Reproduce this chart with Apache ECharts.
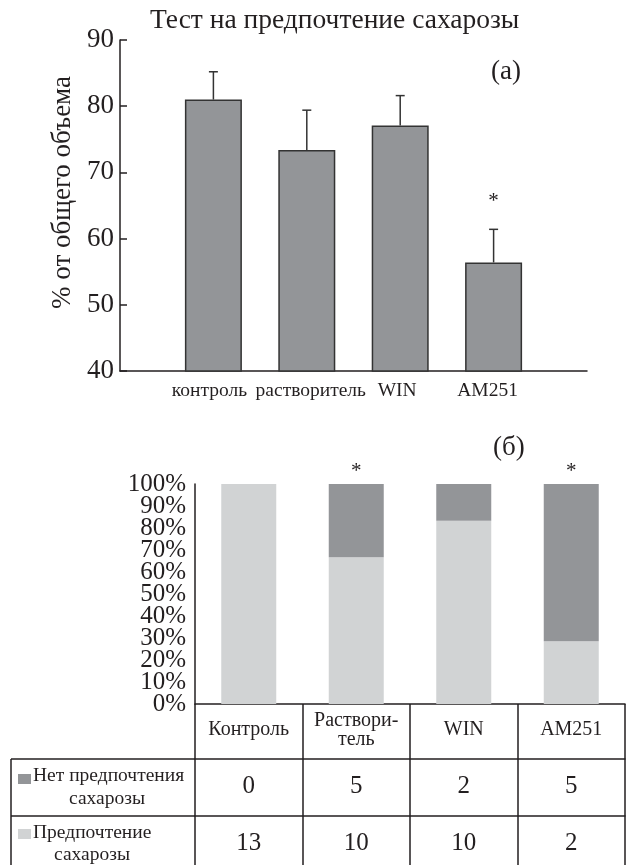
<!DOCTYPE html>
<html>
<head>
<meta charset="utf-8">
<script src="https://cdn.jsdelivr.net/npm/echarts@6/dist/echarts.min.js"></script>
<style>
  html, body { margin: 0; padding: 0; background: #fff; }
  #chart { width: 626px; height: 865px; }
</style>
</head>
<body>
<div id="chart"></div>
<script>
// (а) sucrose preference, % of total volume
const groupsA = ['контроль', 'растворитель', 'WIN', 'AM251'];
const meanA = [81.0, 73.4, 77.1, 56.4];
const semA = [4.2, 6.0, 4.5, 5.0];
const sigA = [false, false, false, true];

// (б) number of animals
const groupsB = ['Контроль', 'Раствори-\nтель', 'WIN', 'AM251'];
const noPref = [0, 5, 2, 5];
const pref = [13, 10, 10, 2];
const sigB = [false, true, false, true];

const FONT = 'Liberation Serif';
const INK = '#231f20';
const DARK = '#939598';
const LIGHT = '#d1d3d4';

const myChart = echarts.init(document.getElementById('chart'));

// padded category axis so bars sit at interior points
const xDataA = [''].concat(groupsA, ['']);
const barDataA = [null].concat(meanA, [null]);
const errData = groupsA.map((g, i) => [i + 1, meanA[i], meanA[i] + semA[i], sigA[i] ? 1 : 0]);

const totals = pref.map((p, i) => p + noPref[i]);
const prefPct = pref.map((p, i) => p / totals[i] * 100);
const noPrefPct = noPref.map((n, i) => n / totals[i] * 100);

const txt = (size) => ({ fontFamily: FONT, fontSize: size, color: INK, fontWeight: 'normal' });

// small nudges of the lower labels of chart (а), as in the original layout
const labStyle = (pad) => Object.assign(txt(19.5), { padding: pad });
const richA = {
  a: labStyle([0, 8, 0, 0]),
  b: labStyle([0, 0, 0, 8]),
  c: labStyle([0, 6, 0, 0]),
  d: labStyle([0, 12, 0, 0])
};
const richKeys = ['a', 'b', 'c', 'd'];

const tableAxis = (offset, tickLen, fmt) => ({
  gridIndex: 1,
  type: 'category',
  position: 'bottom',
  offset: offset,
  data: groupsB,
  axisLine: { show: true, onZero: false, lineStyle: { color: INK, width: 1.5 } },
  axisTick: { show: true, length: tickLen, lineStyle: { color: INK, width: 1.5 } },
  axisLabel: Object.assign(txt(25), { interval: 0, margin: 27, verticalAlign: 'middle', formatter: fmt })
});

// the packed percent labels are split over two axes so none gets dropped
const pctAxis = (odd, showLine) => ({
  gridIndex: 1,
  type: 'value',
  position: 'left',
  min: 0, max: 100, interval: 10,
  axisLine: { show: showLine, onZero: false, lineStyle: { color: INK, width: 1.5 } },
  axisTick: { show: false },
  axisLabel: Object.assign(txt(25), {
    margin: 9,
    formatter: (v) => ((v / 10) % 2 === 1) === odd ? v + '%' : ''
  }),
  splitLine: { show: false }
});

const option = {
  animation: false,
  title: [
    { text: 'Тест на предпочтение сахарозы', left: 150, top: 7, padding: 0, textStyle: txt(27.5) },
    { text: '(а)', left: 491, top: 58, padding: 0, textStyle: txt(27) },
    { text: '(б)', left: 493, top: 434, padding: 0, textStyle: txt(27) }
  ],
  grid: [
    { left: 120, top: 40, width: 467, height: 331 },
    { left: 195, top: 484, width: 430, height: 220 }
  ],
  xAxis: [
    {
      gridIndex: 0,
      type: 'category',
      data: xDataA,
      boundaryGap: false,
      axisLine: { lineStyle: { color: INK, width: 1.5 } },
      axisTick: {
        show: true, inside: true, length: 9,
        interval: (idx) => idx > 0 && idx < xDataA.length - 1,
        lineStyle: { color: INK, width: 1.5 }
      },
      axisLabel: Object.assign(txt(19.5), {
        interval: 0, margin: 10, rich: richA,
        formatter: (v, i) => v ? '{' + richKeys[i - 1] + '|' + v + '}' : ''
      })
    },
    {
      gridIndex: 1,
      type: 'category',
      position: 'bottom',
      data: groupsB,
      axisLine: { onZero: false, lineStyle: { color: INK, width: 1.5 } },
      axisTick: { show: true, length: 55, lineStyle: { color: INK, width: 1.5 } },
      axisLabel: Object.assign(txt(20), { interval: 0, margin: 26, verticalAlign: 'middle', lineHeight: 19 })
    },
    tableAxis(55, 57, (v, i) => String(noPref[i])),
    tableAxis(112, 49, (v, i) => String(pref[i]))
  ],
  yAxis: [
    {
      gridIndex: 0,
      type: 'value',
      min: 40, max: 90, interval: 10,
      name: '% от общего объема',
      nameLocation: 'middle',
      nameRotate: 90,
      nameGap: 40,
      nameTextStyle: Object.assign(txt(27), { padding: [0, 0, 0, 26] }),
      axisLine: { show: true, lineStyle: { color: INK, width: 1.5 } },
      axisTick: { show: true, inside: true, length: 7, lineStyle: { color: INK, width: 1.5 } },
      axisLabel: Object.assign(txt(27), { margin: 6 }),
      splitLine: { show: false }
    },
    pctAxis(false, true),
    pctAxis(true, false)
  ],
  series: [
    {
      type: 'bar',
      xAxisIndex: 0, yAxisIndex: 0,
      data: barDataA,
      barWidth: 57,
      itemStyle: { color: DARK, borderColor: '#333', borderWidth: 1.5 }
    },
    {
      type: 'custom',
      xAxisIndex: 0, yAxisIndex: 0,
      data: errData,
      z: 5,
      renderItem: function (params, api) {
        const p0 = api.coord([api.value(0), api.value(1)]);
        const p1 = api.coord([api.value(0), api.value(2)]);
        const ls = { stroke: '#333', lineWidth: 1.5 };
        const children = [
          { type: 'line', shape: { x1: p0[0], y1: p0[1], x2: p1[0], y2: p1[1] }, style: ls },
          { type: 'line', shape: { x1: p1[0] - 4.5, y1: p1[1], x2: p1[0] + 4.5, y2: p1[1] }, style: ls }
        ];
        if (api.value(3)) {
          children.push({
            type: 'text',
            style: {
              text: '*', x: p1[0], y: p1[1] - 28,
              align: 'center', verticalAlign: 'middle',
              textAlign: 'center', textVerticalAlign: 'middle',
              font: '21px "Liberation Serif"', fill: INK
            }
          });
        }
        return { type: 'group', children: children };
      }
    },
    {
      type: 'bar',
      name: 'Предпочтение сахарозы',
      xAxisIndex: 1, yAxisIndex: 1,
      stack: 'b',
      data: prefPct,
      barWidth: 55,
      itemStyle: { color: LIGHT }
    },
    {
      type: 'bar',
      name: 'Нет предпочтения сахарозы',
      xAxisIndex: 1, yAxisIndex: 1,
      stack: 'b',
      data: noPrefPct,
      barWidth: 55,
      itemStyle: { color: DARK },
      label: {
        show: true,
        position: 'top',
        distance: 2,
        fontFamily: FONT, fontSize: 21, color: INK,
        formatter: (p) => sigB[p.dataIndex] ? '*' : ''
      }
    }
  ],
  graphic: [
    // left column of the table
    { type: 'line', shape: { x1: 11, y1: 759, x2: 195, y2: 759 }, style: { stroke: INK, lineWidth: 1.5 } },
    { type: 'line', shape: { x1: 11, y1: 816, x2: 195, y2: 816 }, style: { stroke: INK, lineWidth: 1.5 } },
    { type: 'line', shape: { x1: 11, y1: 759, x2: 11, y2: 865 }, style: { stroke: INK, lineWidth: 1.5 } },
    { type: 'rect', shape: { x: 18, y: 774, width: 13, height: 10 }, style: { fill: DARK } },
    { type: 'rect', shape: { x: 18, y: 829, width: 13, height: 10 }, style: { fill: LIGHT } },
    { type: 'text', x: 33, y: 776, style: { text: 'Нет предпочтения', font: '19.5px "Liberation Serif"', fill: INK, verticalAlign: 'middle' } },
    { type: 'text', x: 107, y: 799, style: { text: 'сахарозы', font: '19.5px "Liberation Serif"', fill: INK, align: 'center', verticalAlign: 'middle' } },
    { type: 'text', x: 33, y: 833, style: { text: 'Предпочтение', font: '19.5px "Liberation Serif"', fill: INK, verticalAlign: 'middle' } },
    { type: 'text', x: 92, y: 855, style: { text: 'сахарозы', font: '19.5px "Liberation Serif"', fill: INK, align: 'center', verticalAlign: 'middle' } }
  ]
};

option && myChart.setOption(option);
</script>
</body>
</html>
